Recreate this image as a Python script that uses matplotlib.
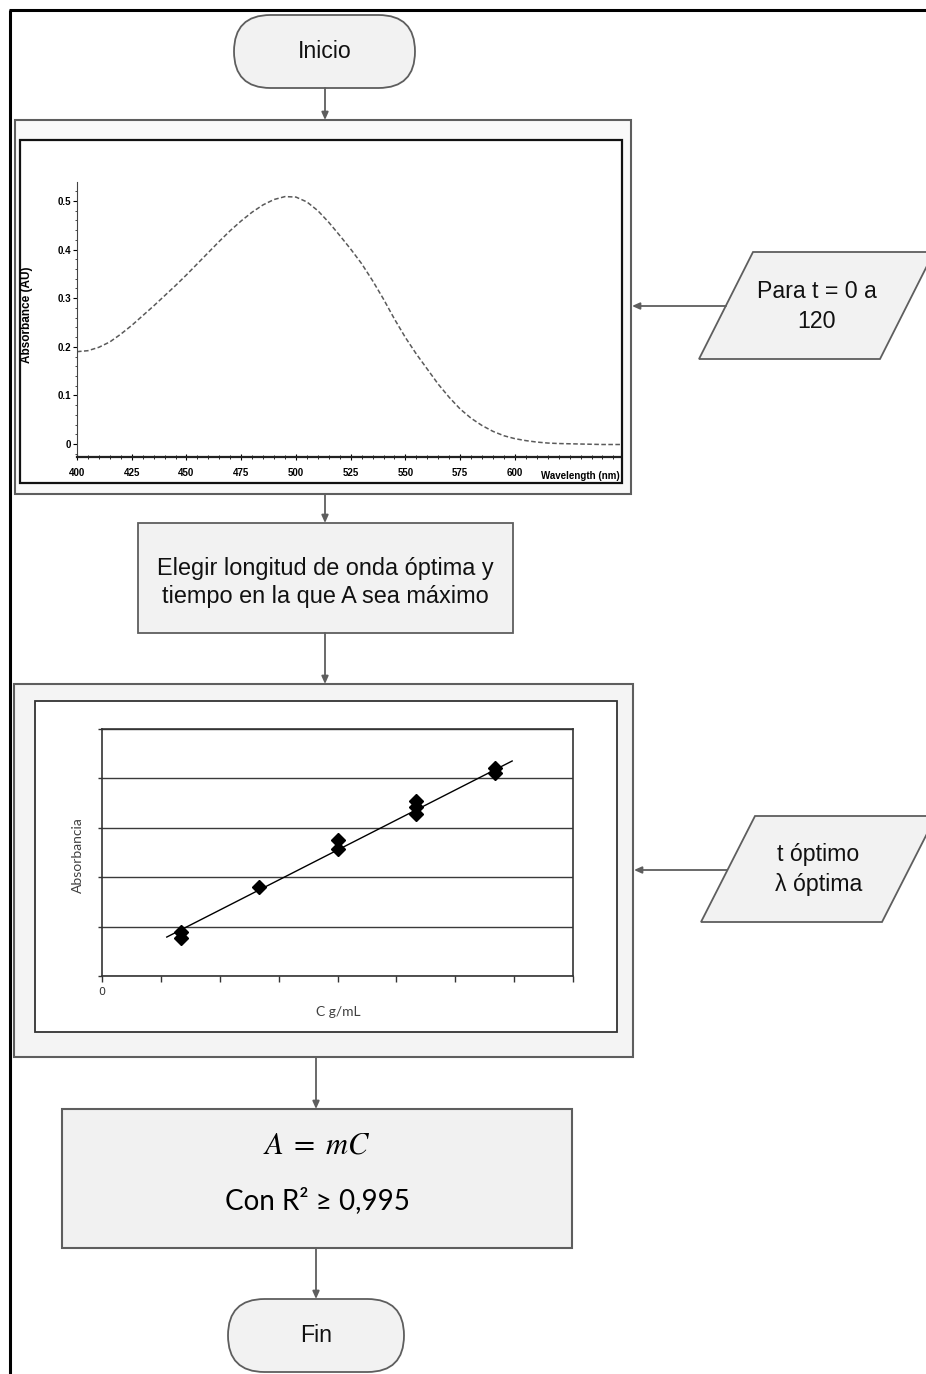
import matplotlib
matplotlib.use('Agg')
import matplotlib.pyplot as plt
from matplotlib.patches import Rectangle, FancyBboxPatch, Polygon
from matplotlib.ticker import MultipleLocator
from matplotlib import font_manager

W, H = 926, 1374
plt.rcParams['mathtext.fontset'] = 'stix'

# ---------------- data ----------------
wavelength_nm = [400, 405, 410, 415, 420, 425, 430, 435, 440, 445, 450, 455, 460, 465,
                 470, 475, 480, 485, 490, 495, 500, 505, 510, 515, 520, 525, 530, 535,
                 540, 545, 550, 555, 560, 565, 570, 575, 580, 585, 590, 595, 600, 605,
                 610, 615, 620, 630, 640, 648]
absorbance_au = [0.190, 0.192, 0.199, 0.210, 0.226, 0.244, 0.264, 0.284, 0.305, 0.326,
                 0.348, 0.371, 0.394, 0.417, 0.439, 0.459, 0.477, 0.492, 0.503, 0.509,
                 0.508, 0.498, 0.480, 0.456, 0.429, 0.401, 0.371, 0.336, 0.298, 0.257,
                 0.219, 0.185, 0.154, 0.123, 0.096, 0.072, 0.053, 0.038, 0.026, 0.017,
                 0.011, 0.007, 0.004, 0.002, 0.001, 0.000, -0.001, -0.001]
spec_xticks = [400, 425, 450, 475, 500, 525, 550, 575, 600]
spec_yticks = [0, 0.1, 0.2, 0.3, 0.4, 0.5]
spec_yticklabels = ['0', '0.1', '0.2', '0.3', '0.4', '0.5']

conc = [4, 4, 8, 12, 12, 16, 16, 16, 20, 20]
absorbance = [0.180, 0.155, 0.360, 0.551, 0.514, 0.709, 0.684, 0.656, 0.842, 0.822]
trend_x = [3.3, 20.9]
trend_slope = 0.0405
trend_intercept = 0.024
cal_xticks = [0, 3, 6, 9, 12, 15, 18, 21, 24]
cal_xticklabels = ['0', '', '', '', '', '', '', '', '']
cal_yticks = [0, 0.2, 0.4, 0.6, 0.8, 1.0]

# ---------------- fonts ----------------
def have(fam):
    try:
        font_manager.findfont(font_manager.FontProperties(family=fam),
                              fallback_to_default=False)
        return True
    except Exception:
        return False


SANS = ['Liberation Sans', 'DejaVu Sans']
CALI = ['Lato', 'DejaVu Sans']
if have('Liberation Sans Narrow'):
    NARROW = ['Liberation Sans Narrow', 'DejaVu Sans']
    nsize = 8
else:
    NARROW = SANS
    nsize = 7

# ---------------- figure ----------------
fig = plt.figure(figsize=(W / 100, H / 100), dpi=100)
ax = fig.add_axes([0, 0, 1, 1])
ax.set_xlim(0, W)
ax.set_ylim(H, 0)
ax.axis('off')


def pax(x0, y0, x1, y1):
    return fig.add_axes([x0 / W, 1 - y1 / H, (x1 - x0) / W, (y1 - y0) / H])


EDGE = '#5e5e5e'
FILL = '#f2f2f2'

# outer border (only left and top visible)
ax.plot([10, 10], [10, H], color='black', lw=2.2, solid_capstyle='butt')
ax.plot([9, W], [10, 10], color='black', lw=2.2, solid_capstyle='butt')


def terminal(x0, y0, x1, y1, text):
    h = y1 - y0
    p = FancyBboxPatch((x0, y0), x1 - x0, h,
                       boxstyle=f"round,pad=0,rounding_size={h / 2}",
                       fc=FILL, ec=EDGE, lw=1.3)
    ax.add_patch(p)
    ax.text((x0 + x1) / 2, (y0 + y1) / 2, text, ha='center', va='center',
            fontsize=16.7, family=SANS, color='#111111')


def arrow(x0, y0, x1, y1):
    ax.annotate('', xy=(x1, y1), xytext=(x0, y0),
                arrowprops=dict(arrowstyle='-|>,head_length=0.45,head_width=0.2',
                                color=EDGE, lw=1.3, shrinkA=0, shrinkB=0,
                                mutation_scale=10))


def para(xbl, ybot, ytop, shift, width, lines, ymid_lines):
    pts = [(xbl, ybot), (xbl + shift, ytop), (xbl + shift + width, ytop), (xbl + width, ybot)]
    ax.add_patch(Polygon(pts, closed=True, fc=FILL, ec=EDGE, lw=1.3))
    cx = xbl + shift / 2 + width / 2
    for t, y in zip(lines, ymid_lines):
        ax.text(cx, y, t, ha='center', va='center', fontsize=16.7, family=SANS, color='#111111')


# Inicio
terminal(234, 15, 415, 88, 'Inicio')
arrow(325, 88, 325, 120)

# frame 1 (spectrum image)
ax.add_patch(Rectangle((15, 120), 616, 374, fc='#f9f9f9', ec=EDGE, lw=1.5))
ax.add_patch(Rectangle((20, 140), 602, 343, fc='white', ec='#111111', lw=1.6))

# parallelogram 1
para(699, 359, 252, 54, 181, ['Para t = 0 a', '120'], [292, 322])
arrow(726, 306, 632, 306)

arrow(325, 494, 325, 523)

# Elegir box
ax.add_patch(Rectangle((138, 523), 375, 110, fc=FILL, ec=EDGE, lw=1.3))
ax.text(325, 569, 'Elegir longitud de onda óptima y', ha='center', va='center',
        fontsize=16.9, family=SANS, color='#111111')
ax.text(325, 596, 'tiempo en la que A sea máximo', ha='center', va='center',
        fontsize=16.9, family=SANS, color='#111111')
arrow(325, 633, 325, 684)

# frame 2 (calibration chart)
ax.add_patch(Rectangle((14, 684), 619, 373, fc='#f4f4f4', ec=EDGE, lw=1.5))
ax.add_patch(Rectangle((35, 701), 582, 331, fc='white', ec='#333333', lw=1.3))

para(701, 922, 816, 54, 181, ['t óptimo', 'λ óptima'], [855, 885])
arrow(727, 870, 634, 870)

arrow(316, 1057, 316, 1109)

# A = mC box
ax.add_patch(Rectangle((62, 1109), 510, 139, fc='#f1f1f1', ec=EDGE, lw=1.5))
ax.text(317, 1145, r'$A\;=\;mC$', ha='center', va='center', fontsize=22, color='black')
ax.text(317, 1201, 'Con R² ≥ 0,995', ha='center', va='center', fontsize=20,
        family=CALI, color='black')
arrow(316, 1248, 316, 1299)

# Fin
terminal(228, 1299, 404, 1372, 'Fin')

# ---------------- spectrum axes ----------------
sx = pax(77, 182, 620, 457)
sx.patch.set_alpha(0)
sx.set_xlim(400, 648)
sx.set_ylim(-0.0267, 0.539)
sx.plot(wavelength_nm, absorbance_au, color='#5a5a5a', lw=1.1, dashes=(3, 1.6))
for s in ['top', 'right']:
    sx.spines[s].set_visible(False)
sx.spines['left'].set_color('#444444')
sx.spines['bottom'].set_color('#222222')
sx.spines['bottom'].set_linewidth(1.6)
sx.set_xticks(spec_xticks)
sx.set_xticklabels([str(v) for v in spec_xticks])
sx.set_yticks(spec_yticks)
sx.set_yticklabels(spec_yticklabels)
sx.xaxis.set_minor_locator(MultipleLocator(5))
sx.yaxis.set_minor_locator(MultipleLocator(0.02))
sx.tick_params(axis='x', which='major', direction='inout', length=5, width=0.8,
               pad=5.5, labelsize=nsize)
sx.tick_params(axis='x', which='minor', direction='inout', length=3, width=0.6)
sx.tick_params(axis='y', which='major', direction='out', length=3, width=0.8,
               pad=1.5, labelsize=nsize)
sx.tick_params(axis='y', which='minor', direction='out', length=1.5, width=0.5)
for lab in sx.get_xticklabels() + sx.get_yticklabels():
    lab.set_fontweight('bold')
    lab.set_family(NARROW)
ax.text(620, 476, 'Wavelength (nm)', ha='right', va='center', fontsize=nsize,
        fontweight='bold', family=NARROW)
ax.text(27, 315, 'Absorbance (AU)', ha='center', va='center', rotation=90,
        fontsize=nsize + 1.5, fontweight='bold', family=NARROW)

# ---------------- calibration axes ----------------
cx = pax(102, 729, 573, 976)
cx.set_facecolor('white')
cx.set_xlim(0, 24)
cx.set_ylim(0, 1)
cx.set_xticks(cal_xticks)
cx.set_xticklabels(cal_xticklabels)
cx.set_yticks(cal_yticks)
cx.set_yticklabels([])
cx.grid(axis='y', color='#3a3a3a', lw=1.0)
cx.set_axisbelow(True)
for s in cx.spines.values():
    s.set_color('#333333')
    s.set_linewidth(1.2)
cx.tick_params(axis='x', direction='out', length=4, width=1, pad=4, labelsize=8,
               labelcolor='#333333', colors='#333333')
cx.tick_params(axis='y', direction='out', length=3, width=1, colors='#333333')
cx.plot(trend_x, [trend_intercept + trend_slope * v for v in trend_x], color='black', lw=1.0)
cx.plot(conc, absorbance, 'D', color='black', ms=7)
ax.text(78, 855, 'Absorbancia', ha='center', va='center', rotation=90, fontsize=10,
        family=CALI, color='#404040')
ax.text(338, 1012, 'C g/mL', ha='center', va='center', fontsize=10,
        family=CALI, color='#404040')

fig.savefig('out.png', dpi=100)
